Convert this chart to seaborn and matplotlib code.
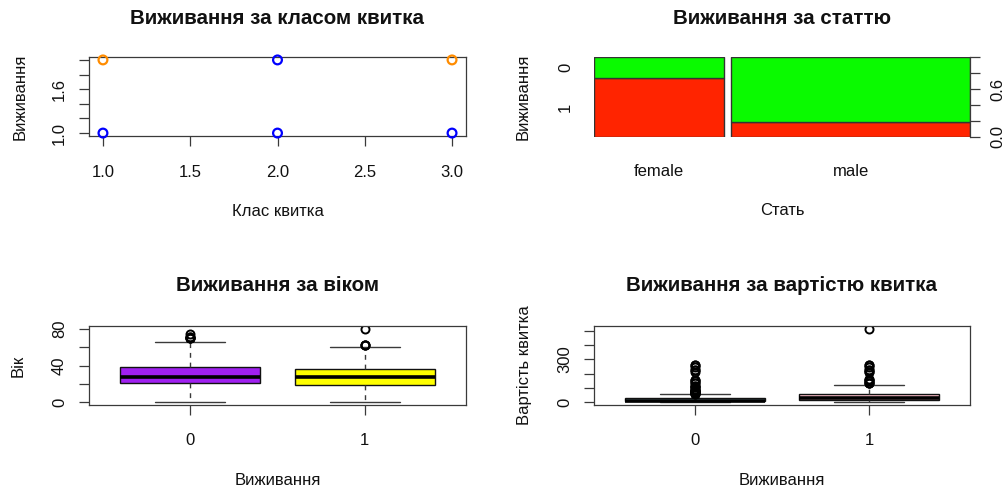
import matplotlib
matplotlib.use("Agg")
import matplotlib.pyplot as plt
import matplotlib.transforms as mtransforms
import seaborn as sns
import pandas as pd

# ---------------- data ----------------
# Panel 1: class vs survival (points)
class_x = [1, 2, 3, 1, 2, 3]
surv_y = [1, 1, 1, 2, 2, 2]
point_group = ["b", "b", "b", "o", "b", "o"]
class_ticks = [1.0, 1.5, 2.0, 2.5, 3.0]
class_tick_labels = ["1.0", "1.5", "2.0", "2.5", "3.0"]
surv_ticks = [1.0, 1.2, 1.4, 1.6, 1.8, 2.0]
surv_tick_labels = ["1.0", "", "", "1.6", "", ""]

# Panel 2: spine plot by sex
sex_levels = ["female", "male"]
survived_counts = [233, 109]   # survival 1
died_counts = [81, 468]        # survival 0
spine_ticks = [0.0, 0.2, 0.4, 0.6, 0.8, 1.0]
spine_tick_labels = ["0.0", "", "", "0.6", "", ""]

# Panel 3: age by survival (box statistics)
groups = ["0", "1"]
age_q1 = [21, 19]
age_med = [28, 28]
age_q3 = [39, 36]
age_lo = [1, 0.42]
age_hi = [66, 60]
age_out_0 = [70, 70, 70.5, 71, 71, 74]
age_out_1 = [62, 62, 63, 80]
age_ticks = [0, 20, 40, 60, 80]
age_tick_labels = ["0", "", "40", "", "80"]

# Panel 4: fare by survival (box statistics)
fare_q1 = [7.85, 12.48]
fare_med = [10.5, 26]
fare_q3 = [26, 57]
fare_lo = [0, 0]
fare_hi = [53.1, 120]
fare_out_0 = [56.5, 56.5, 61.2, 61.4, 63.4, 69.55, 69.55, 71, 73.5, 77.3, 79.2,
              79.65, 82.2, 83.5, 90, 106.4, 108.9, 110.9, 113.3, 133.65, 136.8,
              146.5, 151.55, 153.5, 211.5, 221.8, 227.5, 247.5, 262.4, 263]
fare_out_1 = [133.65, 134.5, 135.6, 146.5, 151.55, 153.5, 164.9, 211.3, 211.3,
              221.8, 227.5, 247.5, 262.4, 263, 512.3]
fare_ticks = [0, 100, 200, 300, 400, 500]
fare_tick_labels = ["0", "", "", "300", "", ""]

# ---------------- style ----------------
W, H = 1004, 490
sns.set_style("white")
plt.rcParams["font.family"] = ["Liberation Sans", "DejaVu Sans"]
plt.rcParams["font.size"] = 12
TXT = "#111111"
LINE = "#3a3a3a"
FS = 12
TFS = 14.8

fig = plt.figure(figsize=(W / 100, H / 100), dpi=100)
fig.patch.set_facecolor("white")


def add_ax(x0, y0, x1, y1):
    return fig.add_axes([x0 / W, 1 - y1 / H, (x1 - x0) / W, (y1 - y0) / H])


def ftext(x, y, s, **kw):
    fig.text(x / W, 1 - y / H, s, color=TXT, **kw)


def frame(ax):
    for s in ax.spines.values():
        s.set_visible(True)
        s.set_color(LINE)
        s.set_linewidth(0.9)
    ax.tick_params(direction="out", length=7.2, width=0.9, color=LINE,
                   bottom=True, left=True, labelbottom=False, labelleft=False)


def xticklab(ax, vals, labels, off=41):
    tr = mtransforms.offset_copy(ax.get_xaxis_transform(), fig=fig, x=0, y=-off, units="dots")
    for v, l in zip(vals, labels):
        if l:
            ax.text(v, 0, l, transform=tr, ha="center", va="baseline",
                    fontsize=FS, color=TXT, clip_on=False)


def yticklab(ax, vals, labels, off=-25, side=0):
    tr = mtransforms.offset_copy(ax.get_yaxis_transform(), fig=fig, x=off, y=0, units="dots")
    for v, l in zip(vals, labels):
        if l:
            ax.text(side, v, l, transform=tr, ha="center", va="baseline",
                    rotation=90, rotation_mode="anchor",
                    fontsize=FS, color=TXT, clip_on=False)


# ---------------- panel 1 ----------------
ax1 = add_ax(89, 57, 466, 136)
df1 = pd.DataFrame({"cls": class_x, "surv": surv_y, "grp": point_group})
sns.scatterplot(data=df1, x="cls", y="surv", hue="grp",
                palette={"o": "#FF8C00", "b": "#0000FF"}, s=40,
                legend=False, ax=ax1, linewidth=0, zorder=3)
coll = ax1.collections[0]
fcs = coll.get_facecolors()
coll.set_edgecolors(fcs)
coll.set_facecolors("none")
coll.set_linewidths(1.6)
coll.set_clip_on(False)
ax1.set_xlim(0.92, 3.08)
ax1.set_ylim(0.96, 2.04)
ax1.set_xlabel("")
ax1.set_ylabel("")
frame(ax1)
ax1.set_xticks(class_ticks)
ax1.set_yticks(surv_ticks)
xticklab(ax1, class_ticks, class_tick_labels)
yticklab(ax1, surv_ticks, surv_tick_labels)

# ---------------- panel 2 ----------------
ax2 = add_ax(594, 57, 970, 137)
totals = [s + d for s, d in zip(survived_counts, died_counts)]
grand = sum(totals)
gap = 0.02
widths = [t / grand for t in totals]
lefts = []
pos = 0.0
for w in widths:
    lefts.append(pos)
    pos += w + gap
surv_frac = [s / t for s, t in zip(survived_counts, totals)]
died_frac = [d / t for d, t in zip(died_counts, totals)]
RED = "#FF2400"
GREEN = "#0AFA00"
ax2.bar(lefts, surv_frac, width=widths, align="edge", color=RED,
        edgecolor="#333333", linewidth=1.0)
ax2.bar(lefts, died_frac, bottom=surv_frac, width=widths, align="edge",
        color=GREEN, edgecolor="#333333", linewidth=1.0)
ax2.set_xlim(0, pos - gap)
ax2.set_ylim(0, 1)
for k in ["top", "left", "bottom"]:
    ax2.spines[k].set_visible(False)
ax2.spines["right"].set_visible(True)
ax2.spines["right"].set_color(LINE)
ax2.spines["right"].set_linewidth(0.9)
ax2.spines["right"].set_bounds(0, 1)
ax2.set_xticks([])
ax2.yaxis.tick_right()
ax2.set_yticks(spine_ticks)
ax2.tick_params(axis="y", direction="out", length=7.2, width=0.9, color=LINE,
                right=True, left=False, labelright=False, labelleft=False)
centers = [l + w / 2 for l, w in zip(lefts, widths)]
xticklab(ax2, centers, sex_levels, off=39)
yticklab(ax2, [surv_frac[0] + died_frac[0] / 2, surv_frac[0] / 2], ["0", "1"], off=-24)
yticklab(ax2, spine_ticks, spine_tick_labels, off=32, side=1)


# ---------------- box panels ----------------
def box_panel(ax, q1, med, q3, lo, hi, outs, fills, ylim, yt, ytl):
    stats = []
    for i in range(len(groups)):
        stats.append(dict(q1=q1[i], med=med[i], q3=q3[i], whislo=lo[i],
                          whishi=hi[i], fliers=outs[i], label=groups[i]))
    bp = ax.bxp(stats, positions=[0, 1], widths=0.8, capwidths=0.4,
                patch_artist=True, showfliers=True,
                boxprops=dict(edgecolor="#111111", linewidth=1.0),
                medianprops=dict(color="#000000", linewidth=2.6),
                whiskerprops=dict(color=LINE, linewidth=1.0, linestyle=(0, (3.5, 3.5))),
                capprops=dict(color=LINE, linewidth=1.0),
                flierprops=dict(marker="o", markerfacecolor="none",
                                markeredgecolor="#000000", markersize=5.8,
                                markeredgewidth=1.4))
    for p, c in zip(bp["boxes"], fills):
        p.set_facecolor(c)
    ax.set_xlim(-0.58, 1.58)
    ax.set_ylim(*ylim)
    frame(ax)
    ax.set_xticks([0, 1])
    ax.set_yticks(yt)
    xticklab(ax, [0, 1], groups, off=40)
    yticklab(ax, yt, ytl)


ax3 = add_ax(89, 326, 466, 405)
box_panel(ax3, age_q1, age_med, age_q3, age_lo, age_hi, [age_out_0, age_out_1],
          ["#A020F0", "#FFFF00"], (-2.76, 83.18), age_ticks, age_tick_labels)

ax4 = add_ax(594, 326, 970, 405)
box_panel(ax4, fare_q1, fare_med, fare_q3, fare_lo, fare_hi, [fare_out_0, fare_out_1],
          ["#ADD8E6", "#FFC0CB"], (-20.49, 532.82), fare_ticks, fare_tick_labels)

# ---------------- titles & axis labels ----------------
ftext(277.5, 24, "Виживання за класом квитка", ha="center", va="baseline",
      fontsize=TFS, fontweight="bold")
ftext(782, 24, "Виживання за статтю", ha="center", va="baseline",
      fontsize=TFS, fontweight="bold")
ftext(277.5, 291, "Виживання за віком", ha="center", va="baseline",
      fontsize=TFS, fontweight="bold")
ftext(782, 291, "Виживання за вартістю квитка", ha="center", va="baseline",
      fontsize=TFS, fontweight="bold")

ftext(277.5, 216, "Клас квитка", ha="center", va="baseline", fontsize=FS)
ftext(782, 215, "Стать", ha="center", va="baseline", fontsize=FS)
ftext(277.5, 485, "Виживання", ha="center", va="baseline", fontsize=FS)
ftext(782, 485, "Виживання", ha="center", va="baseline", fontsize=FS)

ftext(25, 96.5, "Виживання", ha="center", va="baseline", rotation=90,
      rotation_mode="anchor", fontsize=FS)
ftext(528, 97, "Виживання", ha="center", va="baseline", rotation=90,
      rotation_mode="anchor", fontsize=FS)
ftext(23, 365.5, "Вік", ha="center", va="baseline", rotation=90,
      rotation_mode="anchor", fontsize=FS)
ftext(529, 365.5, "Вартість квитка", ha="center", va="baseline", rotation=90,
      rotation_mode="anchor", fontsize=FS)

fig.savefig("out.png", dpi=100, facecolor="white")
